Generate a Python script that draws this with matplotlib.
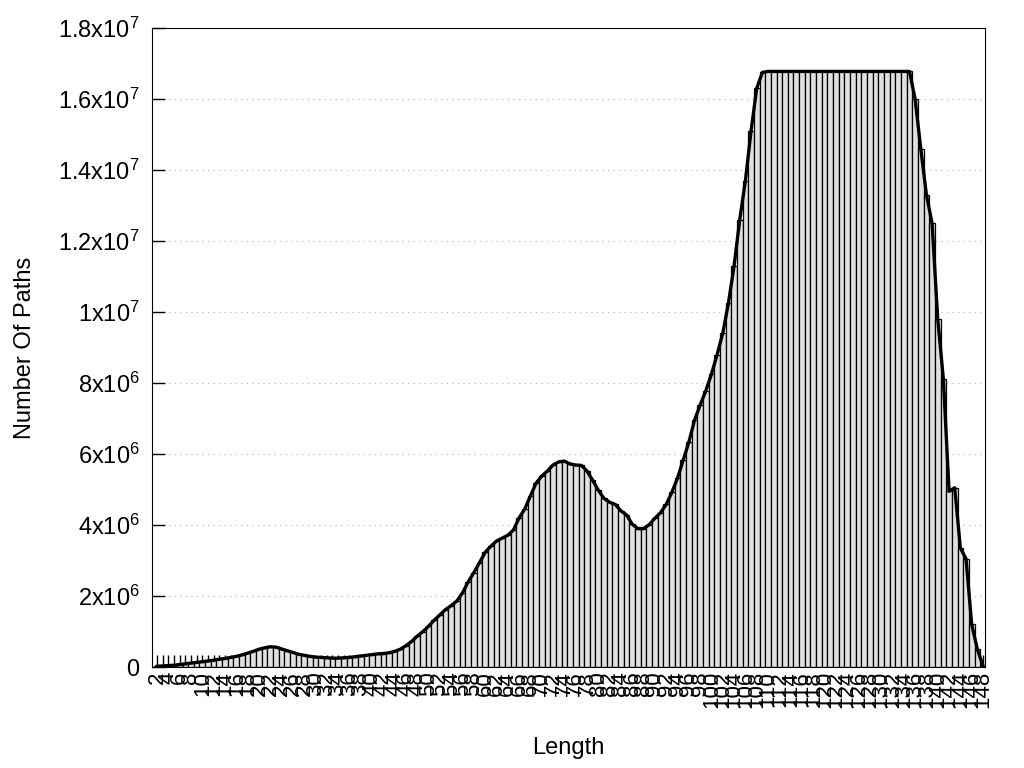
## Path length histogram (number of paths per length)
import numpy as np
import matplotlib
matplotlib.use('Agg')
import matplotlib.pyplot as plt

## DATA
lengths = list(range(2, 149))

# counts in millions (lengths 2..148)
low_part = [0.02, 0.03, 0.04, 0.05, 0.07, 0.09, 0.11, 0.13, 0.15, 0.17,   # 2-11
            0.19, 0.22, 0.24, 0.27, 0.30, 0.34, 0.39, 0.44, 0.50, 0.54,   # 12-21
            0.57, 0.56, 0.51, 0.46, 0.41, 0.36, 0.33, 0.30, 0.28, 0.27,   # 22-31
            0.26, 0.25, 0.25, 0.26, 0.27, 0.29, 0.31, 0.33, 0.35, 0.37,   # 32-41
            0.38, 0.40, 0.44, 0.50, 0.60, 0.72, 0.87, 1.00]               # 42-49
mid_part = [1.15, 1.32, 1.47, 1.62, 1.73, 1.86, 2.09, 2.40, 2.66, 2.94,   # 50-59
            3.23, 3.40, 3.55, 3.63, 3.71, 3.86, 4.20, 4.45, 4.82, 5.18,   # 60-69
            5.38, 5.52, 5.69, 5.78, 5.80, 5.72, 5.69, 5.68, 5.52, 5.26,   # 70-79
            4.98, 4.75, 4.64, 4.58, 4.40, 4.28, 4.02, 3.90, 3.90, 4.01,   # 80-89
            4.19, 4.35, 4.58, 4.92, 5.32, 5.83, 6.33, 6.95, 7.38, 7.78]   # 90-99
rise_part = [8.25, 8.80, 9.40, 10.25, 11.30, 12.60, 13.70, 15.10, 16.30, 16.75]  # 100-109
cap = 16.777216   # 2^24 paths, flat top 110-135
fall_part = [16.0, 14.6, 13.3, 12.5, 9.8, 8.1, 4.95, 5.05, 3.35, 3.05,   # 136-145
             1.2, 0.5, 0.03]                                            # 146-148

counts_m = low_part + mid_part + rise_part + [cap] * 26 + fall_part
counts = np.array(counts_m) * 1e6

xtick_labels = [str(L) if L % 2 == 0 else '' for L in lengths]

ytick_vals = [0, 2e6, 4e6, 6e6, 8e6, 1e7, 1.2e7, 1.4e7, 1.6e7, 1.8e7]
ytick_labels = ['0', r'2x10$^{6}$', r'4x10$^{6}$', r'6x10$^{6}$', r'8x10$^{6}$',
                r'1x10$^{7}$', r'1.2x10$^{7}$', r'1.4x10$^{7}$', r'1.6x10$^{7}$',
                r'1.8x10$^{7}$']

## PLOT
plt.rcParams['font.family'] = ['Liberation Sans', 'DejaVu Sans']
plt.rcParams['mathtext.fontset'] = 'custom'
plt.rcParams['mathtext.rm'] = 'Liberation Sans'
plt.rcParams['mathtext.it'] = 'Liberation Sans'

fig = plt.figure(figsize=(10.24, 7.68), dpi=100)
ax = fig.add_axes([0.1484, 0.1315, 0.8135, 0.832])

ax.bar(lengths, counts, width=1.0, color='#e0e0e0', edgecolor='black',
       linewidth=0.9, zorder=2)
ax.plot(lengths, counts, color='black', linewidth=2.4, zorder=3)

ax.set_xlim(1.1, 148.35)
ax.set_ylim(0, 1.8e7)

ax.set_yticks(ytick_vals)
ax.set_yticklabels(ytick_labels, fontsize=17)
ax.set_xticks(lengths)
ax.set_xticklabels(xtick_labels, rotation=90, fontsize=16, va='top', ha='center')

ax.tick_params(axis='both', direction='in', length=9, width=1)
ax.tick_params(axis='x', pad=3)
ax.tick_params(axis='y', pad=9)

ax.yaxis.grid(True, linestyle=(0, (1, 4)), color='#b0b0b0', linewidth=0.8, zorder=0)
ax.set_axisbelow(True)

ax.set_xlabel('Length', fontsize=17)
ax.set_ylabel('Number Of Paths', fontsize=17)
ax.xaxis.set_label_coords(0.5, -0.127)
ax.yaxis.set_label_coords(-0.1525, 0.5)
ax.xaxis.label.set_va('center')
ax.yaxis.label.set_va('center')

fig.savefig('out.png', dpi=100)
